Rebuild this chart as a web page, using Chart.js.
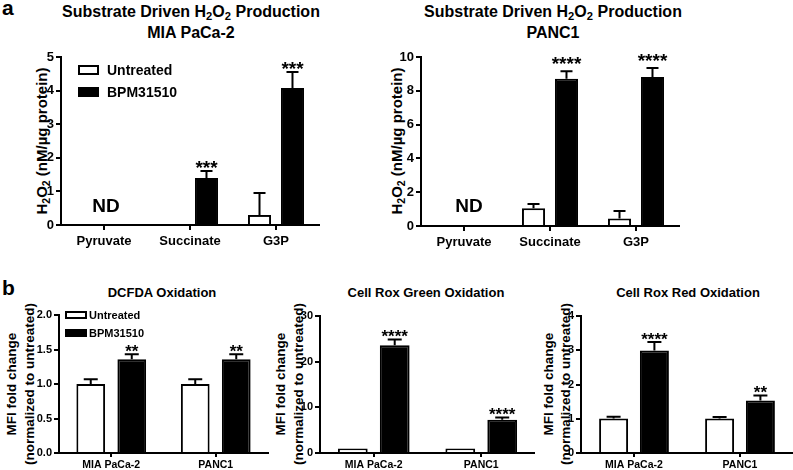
<!DOCTYPE html>
<html><head><meta charset="utf-8">
<script src="https://cdn.jsdelivr.net/npm/chart.js@4"></script>
<style>
body{margin:0;background:#fff;width:793px;height:470px;position:relative;overflow:hidden;font-family:"Liberation Sans",Arial,sans-serif;font-weight:bold;color:#000}
canvas{position:absolute}
.t{position:absolute;text-align:center;white-space:nowrap}
.yt{position:absolute;text-align:center;white-space:nowrap;transform:translate(-50%,-50%) rotate(-90deg)}
sub{font-size:70%;line-height:0;vertical-align:-0.3em}
</style></head><body>
<div class="t" style="left:2px;top:-3px;font-size:21px;line-height:21px;text-align:left">a</div>
<div class="t" style="left:2px;top:277px;font-size:21px;line-height:21px;text-align:left">b</div>
<div class="t" style="left:0;width:382px;top:1px;font-size:16px;line-height:21px">Substrate Driven H<sub>2</sub>O<sub>2</sub> Production<br>MIA PaCa-2</div>
<div class="t" style="left:403px;width:300px;top:1px;font-size:16px;line-height:21px">Substrate Driven H<sub>2</sub>O<sub>2</sub> Production<br>PANC1</div>
<div class="t" style="left:62px;width:200px;top:285px;font-size:13px;line-height:16px">DCFDA Oxidation</div>
<div class="t" style="left:326px;width:200px;top:285px;font-size:13px;line-height:16px">Cell Rox Green Oxidation</div>
<div class="t" style="left:588px;width:200px;top:285px;font-size:13px;line-height:16px">Cell Rox Red Oxidation</div>
<div class="yt" style="left:42px;top:141px;font-size:15px;line-height:18px">H<sub>2</sub>O<sub>2</sub> (nM/µg protein)</div>
<div class="yt" style="left:397px;top:141px;font-size:15px;line-height:18px">H<sub>2</sub>O<sub>2</sub> (nM/µg protein)</div>
<div class="yt" style="left:21px;top:384px;font-size:13.5px;line-height:18px">MFI fold change<br>(normalized to untreated)</div>
<div class="yt" style="left:290px;top:384px;font-size:13.5px;line-height:18px">MFI fold change<br>(normalized to untreated)</div>
<div class="yt" style="left:557px;top:384px;font-size:13.5px;line-height:17px">MFI fold change<br>(normalized to untreated)</div>
<canvas id="a1"></canvas><canvas id="a2"></canvas>
<canvas id="b1"></canvas><canvas id="b2"></canvas><canvas id="b3"></canvas>
<script>
// ---- data ----
const catsA = ['Pyruvate', 'Succinate', 'G3P'];
const catsB = ['MIA PaCa-2', 'PANC1'];
const seriesNames = ['Untreated', 'BPM31510'];
const ndLabel = 'ND';

// a: MIA PaCa-2
const miaH2O2Untreated = [null, null, 0.3];
const miaH2O2UntreatedErr = [0, 0, 0.65];
const miaH2O2BPM = [null, 1.4, 4.08];
const miaH2O2BPMErr = [0, 0.21, 0.47];
const miaH2O2Sig = ['', '***', '***'];
const ticksA1 = [0, 1, 2, 3, 4, 5];

// a: PANC1
const panH2O2Untreated = [null, 1.05, 0.45];
const panH2O2UntreatedErr = [0, 0.25, 0.44];
const panH2O2BPM = [null, 8.72, 8.81];
const panH2O2BPMErr = [0, 0.43, 0.54];
const panH2O2Sig = ['', '****', '****'];
const ticksA2 = [0, 2, 4, 6, 8, 10];

// b: DCFDA
const dcfdaUntreated = [1.0, 1.0];
const dcfdaUntreatedErr = [0.07, 0.07];
const dcfdaBPM = [1.36, 1.36];
const dcfdaBPMErr = [0.07, 0.07];
const dcfdaSig = ['**', '**'];
const ticksB1 = [0, 0.5, 1.0, 1.5, 2.0];

// b: Cell Rox Green
const greenUntreated = [1.0, 1.0];
const greenUntreatedErr = [0, 0];
const greenBPM = [23.6, 7.3];
const greenBPMErr = [1.25, 0.5];
const greenSig = ['****', '****'];
const ticksB2 = [0, 10, 20, 30];

// b: Cell Rox Red
const redUntreated = [1.01, 1.01];
const redUntreatedErr = [0.05, 0.04];
const redBPM = [2.99, 1.53];
const redBPMErr = [0.25, 0.15];
const redSig = ['****', '**'];
const ticksB3 = [0, 1, 2, 3, 4];

// ---- rendering ----
const FONT = '"Liberation Sans", Arial, sans-serif';
Chart.defaults.font.family = FONT;
Chart.defaults.font.weight = 'bold';
Chart.defaults.color = '#000';

// draws error bars, stars, legend and ND on an overlay canvas using the chart's own scales / elements
function drawOverlay(chart, cv, g) {
  const ov = document.createElement('canvas');
  ov.width = g.w; ov.height = g.h;
  ov.style.left = g.left + 'px'; ov.style.top = g.top + 'px';
  ov.style.width = g.w + 'px'; ov.style.height = g.h + 'px';
  cv.parentNode.insertBefore(ov, cv.nextSibling);
  const ctx = ov.getContext('2d');
  const ys = chart.scales.y, xs = chart.scales.x, ca = chart.chartArea;
  ctx.strokeStyle = '#000'; ctx.fillStyle = '#000'; ctx.lineWidth = 2;
  chart.data.datasets.forEach((ds, di) => {
    const meta = chart.getDatasetMeta(di);
    meta.data.forEach((el, j) => {
      const v = ds.data[j];
      if (v == null) return;
      const e = (ds.errors && ds.errors[j]) || 0;
      const yTop = ys.getPixelForValue(v + e);
      if (e > 0) {
        ctx.beginPath();
        ctx.moveTo(el.x, el.y); ctx.lineTo(el.x, yTop);
        ctx.moveTo(el.x - g.cap, yTop); ctx.lineTo(el.x + g.cap, yTop);
        ctx.stroke();
      }
      const s = ds.sig && ds.sig[j];
      if (s) {
        ctx.font = 'bold ' + g.starFont + 'px ' + FONT;
        ctx.textAlign = 'center'; ctx.textBaseline = 'alphabetic';
        ctx.fillText(s, el.x, yTop - g.starGap + 0.57 * g.starFont);
      }
    });
  });
  if (g.legend) {
    const L = g.legend;
    chart.data.datasets.forEach((ds, di) => {
      const bx = ca.left + L.x, by = ca.top + L.y + di * L.dy;
      ctx.fillStyle = '#000';
      ctx.fillRect(bx, by, L.bw, L.bh);
      if (ds.backgroundColor !== '#000') {
        ctx.fillStyle = ds.backgroundColor;
        ctx.fillRect(bx + 2, by + 2, L.bw - 4, L.bh - 4);
      }
      ctx.fillStyle = '#000';
      ctx.font = 'bold ' + L.size + 'px ' + FONT;
      ctx.textAlign = 'left'; ctx.textBaseline = 'alphabetic';
      ctx.fillText(ds.label, ca.left + L.tx, by + L.bh / 2 + 0.358 * L.size);
    });
  }
  if (g.nd) {
    ctx.fillStyle = '#000';
    ctx.font = 'bold ' + g.nd.size + 'px ' + FONT;
    ctx.textAlign = 'center'; ctx.textBaseline = 'alphabetic';
    ctx.fillText(ndLabel, xs.getPixelForValue(g.nd.index) + g.nd.dx, ca.bottom - g.nd.dy + 0.358 * g.nd.size);
  }
}

function makeChart(id, g, cats, unt, untErr, bpm, bpmErr, sig, ticks) {
  const cv = document.getElementById(id);
  cv.width = g.w; cv.height = g.h;
  cv.style.left = g.left + 'px'; cv.style.top = g.top + 'px';
  cv.style.width = g.w + 'px'; cv.style.height = g.h + 'px';
  const chart = new Chart(cv, {
    type: 'bar',
    data: {
      labels: cats,
      datasets: [
        {label: seriesNames[0], data: unt, errors: untErr, backgroundColor: '#fff', borderColor: '#000', borderWidth: 2,
         categoryPercentage: g.catPct, barPercentage: g.barPct},
        {label: seriesNames[1], data: bpm, errors: bpmErr, sig: sig, backgroundColor: '#000', borderColor: '#000', borderWidth: 2,
         categoryPercentage: g.catPct, barPercentage: g.barPct}
      ]
    },
    options: {
      responsive: false, animation: false, devicePixelRatio: 1,
      layout: {padding: {left: 0, top: g.padTop, right: g.padRight, bottom: g.padBottom}},
      plugins: {legend: {display: false}, tooltip: {enabled: false}, title: {display: false}},
      scales: {
        x: {
          grid: {offset: false, drawOnChartArea: false, drawTicks: true, tickLength: g.xTick, color: '#000', lineWidth: 2},
          border: {display: true, color: '#000', width: 2},
          ticks: {color: '#000', font: {size: g.xFont, weight: 'bold'}, padding: g.xPad, maxRotation: 0, autoSkip: false},
          afterFit: s => { s.height = g.xH; }
        },
        y: {
          min: ticks[0], max: ticks[ticks.length - 1],
          afterBuildTicks: s => { s.ticks = ticks.map(v => ({value: v})); },
          grid: {drawOnChartArea: false, drawTicks: true, tickLength: 5, color: '#000', lineWidth: 2},
          border: {display: true, color: '#000', width: 2},
          ticks: {color: '#000', font: {size: g.yFont, weight: 'bold'}, padding: 2, autoSkip: false,
                  callback: v => Number(v).toFixed(g.dec)},
          title: {display: false},
          afterFit: s => { s.width = g.yW; }
        }
      }
    }
  });
  drawOverlay(chart, cv, g);
}

const gA = {top: 0, w: 320, h: 258, padTop: 57, padBottom: 3, xTick: 5, xPad: 4, xFont: 13, yFont: 13, dec: 0,
  catPct: 0.767, barPct: 0.70, cap: 6, starFont: 19};
makeChart('a1', Object.assign({}, gA, {left: 0, w: 330, yW: 61, padRight: 11, xH: 30, starGap: 8,
  legend: {x: 17, y: 8, dy: 22, bw: 21, bh: 10, tx: 46, size: 14}, nd: {index: 0, dx: 2, dy: 20, size: 19}}),
  catsA, miaH2O2Untreated, miaH2O2UntreatedErr, miaH2O2BPM, miaH2O2BPMErr, miaH2O2Sig, ticksA1);
makeChart('a2', Object.assign({}, gA, {left: 370, w: 320, yW: 51, padRight: 11, xH: 29, starGap: 12,
  nd: {index: 0, dx: 5, dy: 21, size: 19}}),
  catsA, panH2O2Untreated, panH2O2UntreatedErr, panH2O2BPM, panH2O2BPMErr, panH2O2Sig, ticksA2);

const gB = {top: 280, h: 190, padBottom: 0, xH: 17, xTick: 4, xPad: 2, xFont: 10.5, yFont: 11,
  cap: 7, starFont: 17, starGap: 7};
makeChart('b1', Object.assign({}, gB, {left: 0, w: 270, yW: 59, padTop: 35, padRight: 2, dec: 1,
  catPct: 0.785, barPct: 0.70, legend: {x: 6, y: -4, dy: 18, bw: 22, bh: 8, tx: 30, size: 11}}),
  catsB, dcfdaUntreated, dcfdaUntreatedErr, dcfdaBPM, dcfdaBPMErr, dcfdaSig, ticksB1);
makeChart('b2', Object.assign({}, gB, {left: 270, w: 265, yW: 50, padTop: 36, padRight: 0, dec: 0,
  catPct: 0.78, barPct: 0.71}),
  catsB, greenUntreated, greenUntreatedErr, greenBPM, greenBPMErr, greenSig, ticksB2);
makeChart('b3', Object.assign({}, gB, {left: 535, w: 258, yW: 46, padTop: 36, padRight: 0, dec: 0,
  catPct: 0.77, barPct: 0.71}),
  catsB, redUntreated, redUntreatedErr, redBPM, redBPMErr, redSig, ticksB3);
</script>
</body></html>
